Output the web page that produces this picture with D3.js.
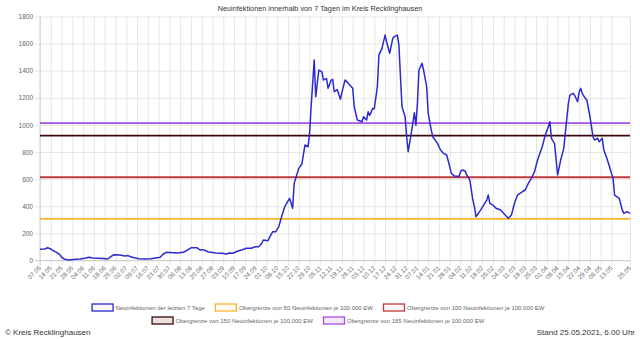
<!DOCTYPE html>
<html><head><meta charset="utf-8">
<script src="https://cdn.jsdelivr.net/npm/d3@7/dist/d3.min.js"></script>
<style>
html,body{margin:0;padding:0;background:#fff;}
svg{display:block;font-family:"Liberation Sans",Arial,Helvetica,sans-serif;}
</style></head>
<body><svg id="c" width="640" height="339"></svg>
<script>
// ---- data ----
const dates = ["2020-05-07","2020-05-10","2020-05-12","2020-05-14","2020-05-15","2020-05-18","2020-05-20","2020-05-21","2020-05-23","2020-05-26","2020-05-30",
"2020-06-02","2020-06-05","2020-06-08","2020-06-10","2020-06-14","2020-06-17","2020-06-20","2020-06-22","2020-06-24","2020-06-28",
"2020-07-01","2020-07-03","2020-07-06","2020-07-10","2020-07-14","2020-07-18","2020-07-21","2020-07-24","2020-07-26","2020-07-28",
"2020-08-04","2020-08-08","2020-08-10","2020-08-13","2020-08-17","2020-08-19","2020-08-21","2020-08-24","2020-08-29",
"2020-09-02","2020-09-05","2020-09-07","2020-09-09","2020-09-13","2020-09-15","2020-09-18","2020-09-21","2020-09-24","2020-09-26","2020-09-28","2020-09-29",
"2020-10-02","2020-10-03","2020-10-05","2020-10-07","2020-10-09","2020-10-11","2020-10-13","2020-10-16","2020-10-18","2020-10-19","2020-10-22","2020-10-24","2020-10-26","2020-10-28","2020-10-29","2020-10-30",
"2020-11-01","2020-11-02","2020-11-03","2020-11-04","2020-11-06","2020-11-07","2020-11-09","2020-11-10","2020-11-12","2020-11-13","2020-11-14","2020-11-16","2020-11-18","2020-11-19","2020-11-21","2020-11-23","2020-11-24","2020-11-26","2020-11-27","2020-11-29",
"2020-12-02","2020-12-03","2020-12-05","2020-12-06","2020-12-07","2020-12-09","2020-12-10","2020-12-12","2020-12-13","2020-12-15","2020-12-17","2020-12-18","2020-12-20","2020-12-22","2020-12-23","2020-12-25","2020-12-26","2020-12-27","2020-12-28","2020-12-30","2020-12-31",
"2021-01-01","2021-01-03","2021-01-04","2021-01-05","2021-01-06","2021-01-07","2021-01-08","2021-01-10","2021-01-11","2021-01-13","2021-01-14","2021-01-16","2021-01-17","2021-01-20","2021-01-22","2021-01-24","2021-01-26","2021-01-28","2021-01-29","2021-01-31",
"2021-02-03","2021-02-04","2021-02-05","2021-02-07","2021-02-08","2021-02-10","2021-02-12","2021-02-13","2021-02-14","2021-02-17","2021-02-19","2021-02-21","2021-02-22","2021-02-23","2021-02-25","2021-02-27",
"2021-03-02","2021-03-05","2021-03-07","2021-03-09","2021-03-11","2021-03-13","2021-03-16","2021-03-18","2021-03-20","2021-03-22","2021-03-24","2021-03-26","2021-03-29","2021-03-31",
"2021-04-02","2021-04-03","2021-04-04","2021-04-06","2021-04-08","2021-04-10","2021-04-12","2021-04-13","2021-04-15","2021-04-16","2021-04-18","2021-04-19","2021-04-21","2021-04-22","2021-04-23","2021-04-24","2021-04-26","2021-04-27","2021-04-29",
"2021-05-01","2021-05-02","2021-05-04","2021-05-05","2021-05-07","2021-05-08","2021-05-10","2021-05-12","2021-05-14","2021-05-15","2021-05-18","2021-05-20","2021-05-21","2021-05-23","2021-05-25"];
const cases7 = [83,85,94,85,77,58,41,24,9,4,9,
11,16,24,19,16,14,11,28,43,41,
33,36,24,13,11,13,19,24,48,60,
55,60,72,94,94,77,80,65,55,
53,48,55,53,72,77,90,90,102,102,127,151,
146,171,212,212,250,330,400,459,385,569,680,712,852,839,938,1134,
1479,1208,1307,1405,1392,1331,1343,1270,1331,1336,1245,1260,1189,1240,1331,1310,1294,1270,1134,1036,
1024,1061,1036,1097,1070,1122,1120,1282,1515,1565,1663,1614,1528,1639,1651,1663,1589,1356,1134,1061,913,
803,938,1012,1090,999,1159,1405,1454,1405,1282,1085,962,913,864,815,790,778,692,643,623,
619,655,667,660,631,594,446,397,323,372,409,446,483,422,409,385,
372,335,311,335,422,483,507,520,569,606,655,741,839,925,
987,1024,901,864,631,741,827,938,1159,1220,1233,1220,1171,1245,1270,1233,1196,1184,1061,
913,889,901,876,901,815,754,680,606,483,459,372,348,360,348];

const thresholdValues = [307, 614, 921, 1013];
const seriesNames = ["Neuinfektionen der letzten 7 Tage",
  "Obergrenze von 50 Neuinfektionen je 100.000 EW",
  "Obergrenze von 100 Neuinfektionen je 100.000 EW",
  "Obergrenze von 150 Neuinfektionen je 100.000 EW",
  "Obergrenze von 165 Neuinfektionen je 100.000 EW"];
const seriesColors = ["#2a2ad0","#f7b52b","#c0393b","#3a0a0a","#a64ee0"];
const seriesFills = ["rgba(42,42,208,0.04)","rgba(247,181,43,0.05)","rgba(192,57,59,0.05)","rgba(90,10,10,0.12)","rgba(166,78,224,0.12)"];

const tickDates = ["2020-05-07","2020-05-14","2020-05-21","2020-05-28","2020-06-04","2020-06-11","2020-06-18","2020-06-25","2020-07-02","2020-07-09","2020-07-16","2020-07-23","2020-07-30",
"2020-08-06","2020-08-13","2020-08-20","2020-08-27","2020-09-03","2020-09-10","2020-09-17","2020-09-24","2020-10-01","2020-10-08","2020-10-15","2020-10-22","2020-10-29",
"2020-11-05","2020-11-12","2020-11-19","2020-11-26","2020-12-03","2020-12-10","2020-12-17","2020-12-24","2020-12-31","2021-01-07","2021-01-14","2021-01-21","2021-01-28",
"2021-02-04","2021-02-11","2021-02-18","2021-02-25","2021-03-04","2021-03-11","2021-03-18","2021-03-25","2021-04-01","2021-04-08","2021-04-15","2021-04-22","2021-04-29","2021-05-06","2021-05-13","2021-05-25"];
const yTicks = [0,200,400,600,800,1000,1200,1400,1600,1800];

const titleText = "Neuinfektionen innerhalb von 7 Tagen im Kreis Recklinghausen";
const footLeft = "© Kreis Recklinghausen";
const footRight = "Stand 25.05.2021, 6.00 Uhr";

// ---- chart ----
const parse = d3.utcParse("%Y-%m-%d");
const fmt = d3.utcFormat("%d.%m");
const svg = d3.select("#c");
const L = 40, R = 630, T = 16.5, B = 260.5;

const x = d3.scaleUtc().domain([parse(dates[0]), parse(dates[dates.length-1])]).range([L, R]);
const y = d3.scaleLinear().domain([0, 1800]).range([B, T]);
const tickX = tickDates.map(parse);

// grid + x labels
const gx = svg.append("g").attr("transform", `translate(0,${B})`)
  .call(d3.axisBottom(x).tickValues(tickX).tickFormat(fmt).tickSize(-(B - T)).tickSizeOuter(0).tickPadding(0));
gx.select(".domain").remove();
gx.selectAll(".tick line").attr("stroke", "#e6e6e6").attr("stroke-width", 1).attr("y2", -(B - T)).attr("y1", 5);
gx.selectAll(".tick text")
  .attr("fill", "#666").attr("font-size", "6.3px").attr("font-family", "Liberation Sans, Arial, sans-serif")
  .attr("text-anchor", "end").attr("dy", 0).attr("y", 0)
  .attr("transform", "translate(1,8) rotate(-45)");

const gy = svg.append("g").attr("transform", `translate(${L},0)`)
  .call(d3.axisLeft(y).tickValues(yTicks).tickFormat(d3.format("d")).tickSize(-(R - L)).tickSizeOuter(0).tickPadding(0));
gy.select(".domain").remove();
gy.selectAll(".tick line").attr("stroke", "#e6e6e6").attr("x1", -5);
gy.selectAll(".tick text").attr("fill", "#666").attr("font-size", "6.5px")
  .attr("font-family", "Liberation Sans, Arial, sans-serif").attr("x", -7).attr("dy", "0.32em");

// axis lines
svg.append("line").attr("x1", L).attr("x2", L).attr("y1", T).attr("y2", B + 5).attr("stroke", "#d0d0d0");
svg.append("line").attr("x1", L - 5).attr("x2", R).attr("y1", B).attr("y2", B).attr("stroke", "#d0d0d0");

// threshold lines
thresholdValues.forEach((v, i) => {
  svg.append("line").attr("x1", L).attr("x2", R).attr("y1", y(v)).attr("y2", y(v))
    .attr("stroke", seriesColors[i + 1]).attr("stroke-width", 1.8);
});

// main line
const data = dates.map((d, i) => ({ d: parse(d), v: cases7[i] }));
svg.append("path").datum(data)
  .attr("fill", "none").attr("stroke", seriesColors[0]).attr("stroke-width", 1.5)
  .attr("stroke-linejoin", "round")
  .attr("d", d3.line().x(d => x(d.d)).y(d => y(d.v)));

// title
svg.append("text").attr("x", 320).attr("y", 11).attr("text-anchor", "middle")
  .attr("font-size", "7.3px").attr("fill", "#333").text(titleText);

// legend
const rows = [[0, 1, 2], [3, 4]];
const rowY = [307.5, 320.5];
const boxW = 21, boxH = 7, gapBox = 3, gapItem = 10, fs = 6.0;
rows.forEach((row, ri) => {
  const g = svg.append("g");
  let cx = 0;
  row.forEach(k => {
    const it = g.append("g").attr("transform", `translate(${cx},0)`);
    it.append("rect").attr("x", 0.5).attr("y", -boxH / 2).attr("width", boxW).attr("height", boxH)
      .attr("fill", seriesFills[k]).attr("stroke", seriesColors[k]).attr("stroke-width", 1.3);
    const t = it.append("text").attr("x", boxW + gapBox).attr("y", 0).attr("dy", "0.35em")
      .attr("font-size", fs + "px").attr("fill", "#666").text(seriesNames[k]);
    cx += boxW + gapBox + t.node().getComputedTextLength() + gapItem;
  });
  const w = cx - gapItem;
  g.attr("transform", `translate(${318 - w / 2},${rowY[ri]})`);
});

// footer
svg.append("text").attr("x", 5).attr("y", 335).attr("font-size", "8px").attr("fill", "#333").text(footLeft);
svg.append("text").attr("x", 635).attr("y", 335).attr("text-anchor", "end").attr("font-size", "8px").attr("fill", "#333").text(footRight);
</script></body></html>
